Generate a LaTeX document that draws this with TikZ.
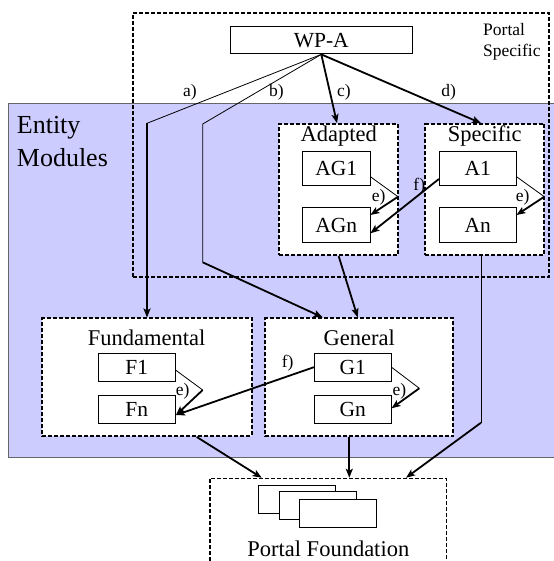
\documentclass[tikz,border=0pt]{standalone}
\usepackage{fontspec}
\setmainfont{Liberation Serif}
\usetikzlibrary{arrows.meta,calc}
\definecolor{emblue}{RGB}{204,204,255}
\begin{document}
\begin{tikzpicture}[x=1pt,y=-1pt,
  box/.style={draw, line width=0.9pt, fill=white, inner sep=0pt, font=\fontsize{21.5}{24}\selectfont},
  frame/.style={draw, fill=white, line width=1.8pt, dash pattern=on 4pt off 2pt, inner sep=0pt},
  ttl/.style={font=\fontsize{22.5}{26}\selectfont, inner sep=0pt, anchor=base},
  lbl/.style={font=\fontsize{17.5}{20}\selectfont, inner sep=0pt, anchor=base},
  thinline/.style={line width=0.8pt},
  arr/.style={line width=1.8pt, -{Stealth[length=9pt,width=7pt,inset=2pt]}},
]
\useasboundingbox (0,0) rectangle (553,561);

% Entity Modules region
\node[draw=black!60, line width=0.9pt, fill=emblue, inner sep=0pt, anchor=north west,
      minimum width=560, minimum height=354] (em) at (8,102.7) {};
\node[anchor=base west, inner sep=0pt, font=\fontsize{26}{32.7}\selectfont] (emt1) at (16.7,134) {Entity};
\node[anchor=base west, inner sep=0pt, font=\fontsize{26}{32.7}\selectfont] (emt2) at (16.7,166.7) {Modules};

% Portal Specific frame
\node[frame, fill=none, minimum width=416, minimum height=264] (ps) at (341.3,144.7) {};
\node[lbl, anchor=base west] (pst1) at (483,35.7) {Portal};
\node[lbl, anchor=base west] (pst2) at (483,56.7) {Specific};

% WP-A
\node[box, minimum width=181.3, minimum height=27.3] (wpa) at (321.3,40.3) {WP-A};

% Adapted / Specific frames
\node[frame, minimum width=118.7, minimum height=131.3] (adp) at (338.7,189.7) {};
\node[ttl] (adpt) at (338.7,142) {Adapted};
\node[frame, minimum width=119, minimum height=131.3] (spc) at (484.8,189.7) {};
\node[ttl] (spct) at (484.8,142) {Specific};

\node[box, minimum width=67.3, minimum height=34.3] (ag1) at (336.3,168.8) {AG1};
\node[box, minimum width=67.3, minimum height=35.4] (agn) at (336.3,225) {AGn};
\node[box, minimum width=76.7, minimum height=34.3] (a1) at (477.7,168.8) {A1};
\node[box, minimum width=76.7, minimum height=35.4] (an) at (477.7,225) {An};

% Fundamental / General frames
\node[frame, minimum width=209.4, minimum height=117.7] (fnd) at (147,377.2) {};
\node[ttl] (fndt) at (146.7,345) {Fundamental};
\node[frame, minimum width=188.3, minimum height=118] (gen) at (359.2,377.3) {};
\node[ttl] (gent) at (359.3,345) {General};

\node[box, minimum width=76.7, minimum height=27.7] (f1) at (136.7,367.2) {F1};
\node[box, minimum width=76.7, minimum height=28.3] (fn) at (136.7,409.2) {Fn};
\node[box, minimum width=76.7, minimum height=27.7] (g1) at (352.7,367.2) {G1};
\node[box, minimum width=76.7, minimum height=28] (gn) at (352.7,409) {Gn};

% Portal Foundation
\node[draw, fill=white, line width=1.2pt, dash pattern=on 4pt off 2pt, inner sep=0pt,
      minimum width=236.7, minimum height=101.7] (pf) at (328.3,529.2) {};
\node[box, minimum width=77, minimum height=28] (r1) at (296.8,499) {};
\node[box, minimum width=77, minimum height=28] (r2) at (317.5,505.7) {};
\node[box, minimum width=77, minimum height=28] (r3) at (338.3,513.3) {};
\node[ttl] (pft) at (328.3,556.7) {Portal Foundation};

% coordinates
\coordinate (ca) at (147,123.3);
\coordinate (cb1) at (202.7,124);
\coordinate (cb2) at (202.7,262.3);
\coordinate (cs) at (481,422.7);
\coordinate (eA) at (398,196.7);
\coordinate (eS) at (544.3,196.7);
\coordinate (eF) at (202.7,390);
\coordinate (eG) at (419.3,388.3);

% a) b) c) d)
\draw[thinline] (wpa.south) -- (ca);
\draw[arr] (ca) -- (fnd.north);
\draw[thinline] (wpa.south) -- (cb1) -- (cb2);
\draw[arr] (cb2) -- ($(gen.north)+(-36.5,0)$);
\draw[arr] (wpa.south) -- ($(adp.north)+(-1.7,0)$);
\draw[arr] (wpa.south) -- ($(spc.north)+(-3.8,0)$);
\node[lbl] at (190,96.7) {a)};
\node[lbl] at (276.5,96.7) {b)};
\node[lbl] at (344,96.7) {c)};
\node[lbl] at (448.7,96.7) {d)};

% e) Adapted
\draw[thinline] ($(ag1.east)+(0,7.9)$) -- (eA);
\draw[arr] (eA) -- ($(agn.east)+(0,-10)$);
\node[lbl] at (378.7,201.7) {e)};
% e) Specific
\draw[thinline] ($(a1.east)+(0,7.9)$) -- (eS);
\draw[arr] (eS) -- ($(an.east)+(0,-10)$);
\node[lbl] at (522.7,201.7) {e)};
% f) A1 -> AGn
\draw[arr] ($(a1.west)+(0,10.2)$) -- ($(agn.east)+(0,8.3)$);
\node[lbl] at (419.3,190) {f)};

% e) Fundamental
\draw[thinline] ($(f1.east)+(0,2.8)$) -- (eF);
\draw[arr] (eF) -- ($(fn.east)+(0.5,5.8)$);
\node[lbl] at (182.7,395) {e)};
% e) General
\draw[thinline] (g1.east) -- (eG);
\draw[arr] (eG) -- ($(gn.east)+(0,-0.7)$);
\node[lbl] at (399.3,395) {e)};
% f) G1 -> Fn
\draw[arr] (g1.west) -- ($(fn.east)+(0.5,5.8)$);
\node[lbl] at (287.7,367.3) {f)};

% to General from Adapted
\draw[arr] (adp.south) -- ($(gen.north)+(-1.5,0)$);
% Specific -> Portal Foundation
\draw[thinline] ($(spc.south)+(-3.8,0)$) -- (cs);
\draw[arr] (cs) -- ($(pf.north)+(77.7,0)$);
% Fundamental, General -> Portal Foundation
\draw[arr] ($(fnd.south)+(49.7,0)$) -- ($(pf.north)+(-66.6,0)$);
\draw[arr] ($(gen.south)+(-9.9,0)$) -- ($(pf.north)+(21,0)$);
\end{tikzpicture}
\end{document}
